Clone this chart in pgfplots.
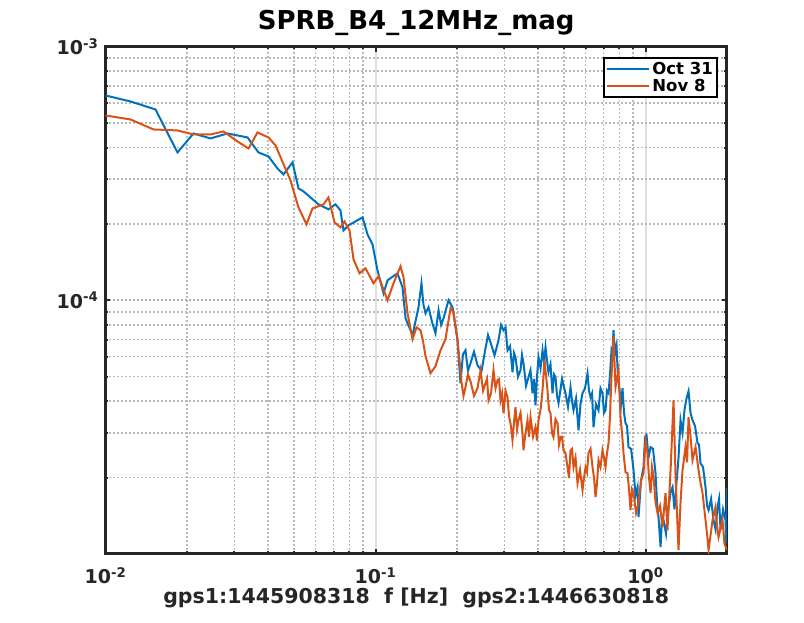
\documentclass[border=0pt]{standalone}
\usepackage{fontspec}
\setmainfont{DejaVu Sans}
\usepackage{pgfplots}
\pgfplotsset{compat=1.18}
\definecolor{mblue}{RGB}{0,114,189}
\definecolor{morange}{RGB}{217,83,25}
\definecolor{axcol}{RGB}{38,38,38}
\begin{document}
\begin{tikzpicture}
\useasboundingbox (-105.5pt,-68.7pt) rectangle (698.5pt,553.5pt);
\begin{axis}[
  at={(0pt,0pt)}, anchor=south west,
  scale only axis, width=621.3pt, height=507pt,
  xmode=log, ymode=log,
  xmin=0.01, xmax=2, ymin=1.005e-5, ymax=1e-3,
  xtick={0.01,0.1,1},
  xticklabels={{10\textsuperscript{-2}},{10\textsuperscript{-1}},{10\textsuperscript{0}}},
  ytick={1e-4,1e-3},
  yticklabels={{10\textsuperscript{-4}},{10\textsuperscript{-3}}},
  minor xtick={0.02,0.03,0.04,0.05,0.06,0.07,0.08,0.09,0.2,0.3,0.4,0.5,0.6,0.7,0.8,0.9,2},
  minor ytick={2e-5,3e-5,4e-5,5e-5,6e-5,7e-5,8e-5,9e-5,2e-4,3e-4,4e-4,5e-4,6e-4,7e-4,8e-4,9e-4},
  tick align=inside, tick pos=both,
  major tick length=5pt, minor tick length=2.5pt,
  every tick/.style={axcol, line width=2pt},
  axis line style={axcol, line width=3pt},
  grid=both,
  minor grid style={gray!55, line width=1.6pt, dash pattern=on 2pt off 2pt},
  major x grid style={gray!25, line width=2pt, solid},
  major y grid style={gray!65, line width=2pt, dash pattern=on 2pt off 2pt},
  xticklabel style={font=\fontsize{19}{22}\selectfont\bfseries, text=axcol, anchor=base, yshift=-30pt},
  yticklabel style={font=\fontsize{19}{22}\selectfont\bfseries, text=axcol, anchor=east, inner sep=0pt, xshift=-7pt},
  title={SPRB\_B4\_12MHz\_mag},
  title style={font=\fontsize{26}{30}\selectfont\bfseries, text=black, at={(axis description cs:0.5,1)}, anchor=base, yshift=11pt},
  xlabel={gps1:1445908318\ \ f [Hz]\ \ gps2:1446630818},
  xlabel style={font=\fontsize{20.5}{24}\selectfont\bfseries, text=axcol, at={(axis description cs:0.5,0)}, anchor=base, yshift=-50pt},
  legend style={at={(1,1)}, anchor=north east, xshift=-9pt, yshift=-10.5pt, draw=black, line width=2pt,
    font=\fontsize{16.5}{18}\selectfont\bfseries, inner sep=2pt, row sep=-1pt, fill=white},
  legend cell align=left,
  legend image code/.code={\draw[#1] (0pt,0pt) -- (42pt,0pt);},
]
\addplot[mblue, line width=2pt] coordinates {
(0.01,6.414e-4) (0.01238,6.075e-4) (0.01532,5.649e-4) (0.01848,3.825e-4) (0.02118,4.544e-4)
(0.02449,4.343e-4) (0.02831,4.544e-4) (0.03357,4.383e-4) (0.03687,3.825e-4) (0.04015,3.689e-4)
(0.04335,3.309e-4) (0.04563,3.134e-4) (0.04927,3.494e-4) (0.05185,2.760e-4) (0.05412,2.686e-4)
(0.0615,2.388e-4) (0.06697,2.282e-4) (0.0711,2.388e-4) (0.07419,2.261e-4) (0.07611,1.886e-4)
(0.07943,1.974e-4) (0.08953,2.122e-4) (0.09342,1.819e-4) (0.09748,1.662e-4) (0.1017,1.313e-4)
(0.1071,1.066e-4) (0.1108,1.199e-4) (0.1206,1.277e-4) (0.1259,1.125e-4) (0.1292,8.494e-5)
(0.1371,7.282e-5) (0.1443,9.385e-5) (0.148,1.167e-4) (0.1505,9.6e-5) (0.1532,8.889e-5) (0.1572,9.385e-5)
(0.162,8.2e-5) (0.1668,7.416e-5) (0.1712,9.133e-5) (0.175,8.0e-5) (0.1786,8.494e-5) (0.1864,1.0e-4) (0.1929,9.385e-5)
(0.2012,6.960e-5) (0.2064,4.712e-5) (0.2108,6.13e-5) (0.2154,6.355e-5) (0.22,5.27e-5) (0.2248,5.649e-5)
(0.2316,6.27e-5) (0.2387,5.547e-5) (0.247,5.27e-5) (0.2555,6.471e-5) (0.261,7.3e-5) (0.2666,6.834e-5)
(0.276,6.07e-5) (0.2855,6.960e-5) (0.2917,8.0e-5) (0.298,7.619e-5) (0.3031,7.829e-5) (0.3083,6.355e-5)
(0.315,6.6e-5) (0.3217,5.206e-5) (0.3258,6.2e-5) (0.33,5.965e-5) (0.337,5.0e-5) (0.3443,5.302e-5)
(0.3488,6.1e-5) (0.3533,5.649e-5) (0.361,4.6e-5) (0.3687,4.978e-5) (0.375,5.3e-5) (0.3815,4.304e-5)
(0.3864,4.9e-5) (0.3914,3.860e-5) (0.3964,5.0e-5) (0.4015,5.965e-5) (0.4085,5.4e-5) (0.4155,6.355e-5)
(0.4209,5.7e-5) (0.4263,6.531e-5) (0.4317,5.8e-5) (0.4372,5.206e-5) (0.4447,5.6e-5) (0.4524,4.304e-5)
(0.4583,5.1e-5) (0.4642,4.978e-5) (0.4702,4.2e-5) (0.4762,3.931e-5) (0.4906,4.9e-5) (0.5054,4.304e-5)
(0.5163,3.8e-5) (0.5275,4.544e-5) (0.5343,4.0e-5) (0.5412,3.689e-5) (0.5528,4.1e-5) (0.5647,3.077e-5)
(0.5744,3.9e-5) (0.5843,4.304e-5) (0.5969,4.5e-5) (0.6098,5.159e-5) (0.6176,4.4e-5) (0.6256,4.151e-5)
(0.6337,4.3e-5) (0.6419,3.162e-5) (0.6556,3.9e-5) (0.6697,3.689e-5) (0.6812,4.5e-5) (0.6929,4.304e-5)
(0.7019,3.6e-5) (0.711,3.689e-5) (0.7202,4.4e-5) (0.7295,4.304e-5) (0.7388,5.1e-5) (0.7483,6.355e-5)
(0.7547,6.2e-5) (0.7611,7.619e-5) (0.771,6.2e-5) (0.7809,6.650e-5) (0.791,4.9e-5) (0.8012,4.422e-5)
(0.8115,3.9e-5) (0.8219,4.503e-5) (0.8326,3.6e-5) (0.8434,3.280e-5) (0.8542,3.2e-5) (0.865,2.638e-5)
(0.884,2.6e-5) (0.903,2.141e-5) (0.9185,1.7e-5) (0.9342,1.835e-5) (0.9421,1.398e-5) (0.9624,1.95e-5)
(0.9831,2.200e-5) (0.996,2.9e-5) (1.0085,2.941e-5) (1.026,2.4e-5) (1.044,2.638e-5) (1.066,2.6e-5)
(1.089,2.084e-5) (1.103,1.6e-5) (1.117,1.398e-5) (1.137,1.066e-5) (1.151,1.4e-5) (1.166,1.361e-5)
(1.191,1.2e-5) (1.217,1.531e-5) (1.238,1.75e-5) (1.259,1.835e-5) (1.28,1.5e-5) (1.302,1.904e-5)
(1.325,2.4e-5) (1.348,3.370e-5) (1.371,3.0e-5) (1.394,3.689e-5) (1.418,4.1e-5) (1.443,4.383e-5)
(1.468,3.6e-5) (1.493,3.370e-5) (1.525,3.2e-5) (1.558,2.735e-5) (1.578,2.7e-5) (1.598,2.282e-5)
(1.633,2.2e-5) (1.668,1.835e-5) (1.69,1.55e-5) (1.712,1.490e-5) (1.749,1.65e-5) (1.786,1.361e-5)
(1.817,1.25e-5) (1.848,1.531e-5) (1.872,1.65e-5) (1.896,1.243e-5) (1.937,1.5e-5) (1.979,1.361e-5)
(1.99,1.1e-5) (2.0,1.819e-5)
};
\addlegendentry{Oct 31}
\addplot[morange, line width=2pt] coordinates {
(0.01,5.350e-4) (0.01238,5.159e-4) (0.01506,4.712e-4) (0.01848,4.670e-4) (0.02118,4.503e-4)
(0.02449,4.503e-4) (0.02735,4.628e-4) (0.03083,4.227e-4) (0.03386,3.966e-4) (0.03656,4.586e-4)
(0.04015,4.383e-4) (0.04263,4.076e-4) (0.04844,2.968e-4) (0.05054,2.544e-4) (0.05185,2.323e-4)
(0.05552,1.992e-4) (0.05843,2.302e-4) (0.06419,2.388e-4) (0.06697,2.544e-4) (0.0705,2.028e-4)
(0.07419,1.938e-4) (0.07676,2.046e-4) (0.08012,1.886e-4) (0.0829,1.450e-4) (0.08725,1.277e-4)
(0.09183,1.336e-4) (0.09831,1.167e-4) (0.1026,1.243e-4) (0.1108,1.0e-4) (0.1166,1.167e-4)
(0.1238,1.361e-4) (0.127,1.232e-4) (0.1314,8.889e-5) (0.1371,7.024e-5) (0.1419,7.829e-5)
(0.1468,7.619e-5) (0.15,6.9e-5) (0.1532,6.019e-5) (0.1598,5.159e-5) (0.1668,5.497e-5) (0.1741,6.355e-5)
(0.1816,7.024e-5) (0.1896,9.301e-5) (0.1945,8.970e-5) (0.2012,7.024e-5) (0.2082,4.755e-5)
(0.2118,4.2e-5) (0.2154,4.544e-5) (0.22,5.1e-5) (0.2248,4.798e-5) (0.2317,4.2e-5) (0.2387,4.503e-5)
(0.2418,4.9e-5) (0.2449,5.302e-5) (0.2502,4.4e-5) (0.2555,4.712e-5) (0.2588,4.9e-5) (0.2622,4.040e-5)
(0.2678,4.3e-5) (0.2735,5.302e-5) (0.2783,4.5e-5) (0.2831,4.842e-5) (0.2867,4.9e-5) (0.2904,4.040e-5)
(0.2942,4.3e-5) (0.298,3.590e-5) (0.3031,4.4e-5) (0.3083,4.151e-5) (0.3122,3.5e-5) (0.3162,3.280e-5)
(0.3217,2.811e-5) (0.3258,3.3e-5) (0.33,3.790e-5) (0.3343,3.1e-5) (0.3386,3.370e-5) (0.3444,3.6e-5)
(0.3503,2.995e-5) (0.3533,2.567e-5) (0.3594,3.0e-5) (0.3656,3.370e-5) (0.37,2.9e-5) (0.3751,3.462e-5)
(0.3832,2.9e-5) (0.3914,3.162e-5) (0.3964,2.8e-5) (0.4015,3.370e-5) (0.4085,3.7e-5) (0.4155,4.422e-5)
(0.4226,5.805e-5) (0.4335,4.422e-5) (0.439,3.7e-5) (0.4447,3.590e-5) (0.4505,3.0e-5) (0.4563,2.888e-5)
(0.4642,3.4e-5) (0.4722,3.280e-5) (0.4782,2.7e-5) (0.4844,2.888e-5) (0.4906,2.9e-5) (0.4969,2.567e-5)
(0.5054,2.5e-5) (0.5141,2.200e-5) (0.5208,2.0e-5) (0.5275,2.567e-5) (0.5343,2.6e-5) (0.5412,2.200e-5)
(0.5505,2.4e-5) (0.5599,1.904e-5) (0.572,2.15e-5) (0.5843,1.786e-5) (0.5919,2.0e-5) (0.5995,2.200e-5)
(0.6072,2.1e-5) (0.615,2.498e-5) (0.6256,2.6e-5) (0.6364,2.200e-5) (0.6446,2.0e-5) (0.6529,1.677e-5)
(0.6612,1.9e-5) (0.6697,2.345e-5) (0.6812,2.2e-5) (0.6929,2.567e-5) (0.7019,2.4e-5) (0.711,2.200e-5)
(0.7202,2.5e-5) (0.7295,2.735e-5) (0.7388,3.5e-5) (0.7483,5.023e-5) (0.7611,7.216e-5) (0.7742,4.544e-5)
(0.7943,5.302e-5) (0.808,3.462e-5) (0.8184,3.0e-5) (0.829,2.498e-5) (0.8432,2.1e-5) (0.8577,2.084e-5)
(0.8687,1.8e-5) (0.8799,1.490e-5) (0.8913,1.8e-5) (0.903,1.739e-5) (0.9224,1.45e-5) (0.9421,1.588e-5)
(0.9624,1.95e-5) (0.9831,2.084e-5) (1.0,2.8e-5) (1.017,2.498e-5) (1.03,2.0e-5) (1.044,1.739e-5)
(1.057,2.2e-5) (1.071,2.010e-5) (1.089,1.6e-5) (1.108,1.450e-5) (1.132,1.55e-5) (1.156,1.277e-5)
(1.171,1.5e-5) (1.186,1.739e-5) (1.206,1.243e-5) (1.238,2.141e-5) (1.270,4.040e-5) (1.292,2.010e-5)
(1.325,1.037e-5) (1.348,1.6e-5) (1.371,2.141e-5) (1.406,2.638e-5) (1.425,2.3e-5) (1.443,3.462e-5)
(1.468,2.9e-5) (1.493,2.345e-5) (1.532,2.638e-5) (1.572,2.141e-5) (1.6,1.9e-5) (1.626,1.739e-5)
(1.668,1.361e-5) (1.69,1.2e-5) (1.712,1.037e-5) (1.771,1.361e-5) (1.816,1.531e-5) (1.84,1.3e-5)
(1.864,1.167e-5) (1.929,1.361e-5) (1.96,1.1e-5) (2.0,1.037e-5)
};
\addlegendentry{Nov 8}
\end{axis}
\end{tikzpicture}
\end{document}
